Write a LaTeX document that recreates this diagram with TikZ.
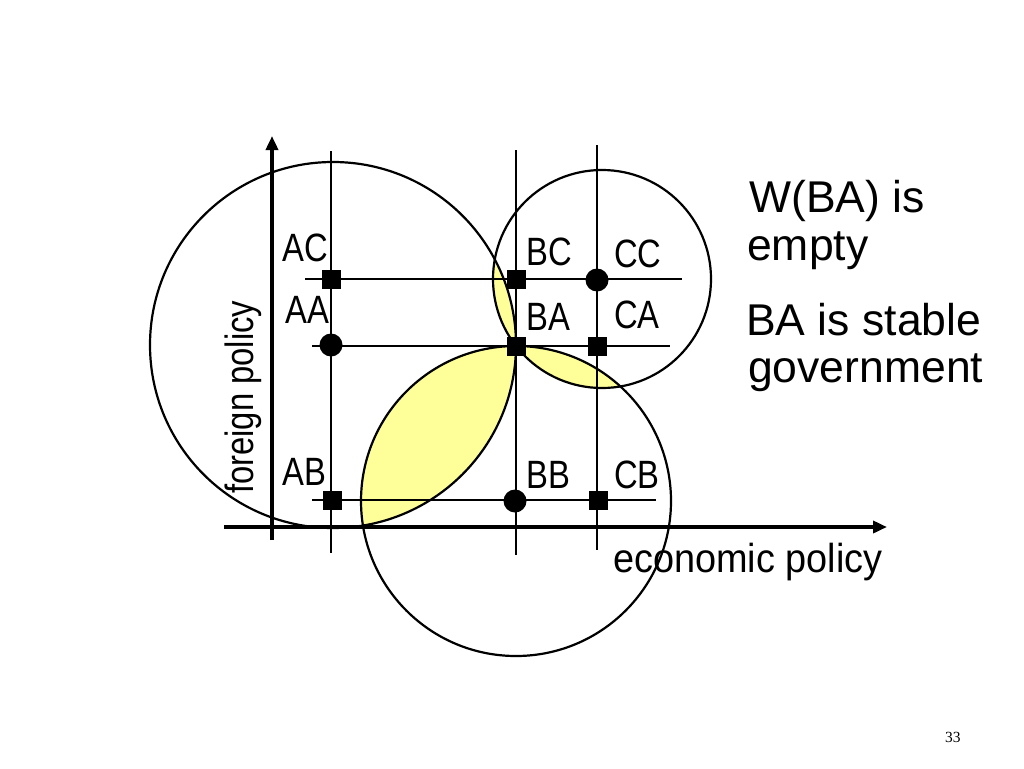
\documentclass[tikz,border=0pt]{standalone}
\usepackage{fontspec}
\setmainfont{Liberation Sans}
\newfontfamily\labfont[FakeStretch=0.83]{Liberation Sans}
\newfontfamily\econfont[FakeStretch=0.935]{Liberation Sans}
\newfontfamily\pagefont{Liberation Serif}
\usetikzlibrary{arrows.meta}
\definecolor{lensyellow}{HTML}{FFFF99}
\tikzset{
  thinline/.style={line width=2pt},
  axisline/.style={line width=3.5pt, -{Triangle[length=14pt,width=12pt]}},
  ring/.style={line width=2.2pt},
  sqmark/.style={rectangle, fill=black, minimum size=19pt, inner sep=0pt},
  dotmark/.style={circle, fill=black, minimum size=23pt, inner sep=0pt},
  cell/.style={font=\labfont\fontsize{39.5}{44}\selectfont, anchor=base west, inner sep=0pt},
  note/.style={font=\fontsize{44.5}{48}\selectfont, anchor=base west, inner sep=0pt},
}
\begin{document}
\begin{tikzpicture}[x=1pt,y=-1pt]
\useasboundingbox (0,0) rectangle (1024,768);
% circle centres
\coordinate (cL) at (333,345);
\coordinate (cB) at (516,501);
\coordinate (cT) at (602,279);
% yellow lenses (pairwise intersections)
\begin{scope}
  \clip (cL) circle[radius=183pt];
  \fill[lensyellow] (cB) circle[radius=155pt];
\end{scope}
\begin{scope}
  \clip (cL) circle[radius=183pt];
  \fill[lensyellow] (cT) circle[radius=109pt];
\end{scope}
\begin{scope}
  \clip (cB) circle[radius=155pt];
  \fill[lensyellow] (cT) circle[radius=109pt];
\end{scope}
% circles
\draw[ring] (cL) circle[radius=183pt];
\draw[ring] (cB) circle[radius=155pt];
\draw[ring] (cT) circle[radius=109pt];
% grid line ends
\coordinate (vAt) at (331,151); \coordinate (vAb) at (331,553);
\coordinate (vBt) at (516,150); \coordinate (vBb) at (516,555);
\coordinate (vCt) at (597,145); \coordinate (vCb) at (597,550);
\coordinate (hCl) at (305,279); \coordinate (hCr) at (682,279);
\coordinate (hAl) at (312,346); \coordinate (hAr) at (670,346);
\coordinate (hBl) at (312,500); \coordinate (hBr) at (656,500);
\draw[thinline] (vAt) -- (vAb);
\draw[thinline] (vBt) -- (vBb);
\draw[thinline] (vCt) -- (vCb);
\draw[thinline] (hCl) -- (hCr);
\draw[thinline] (hAl) -- (hAr);
\draw[thinline] (hBl) -- (hBr);
% axes
\coordinate (yfoot) at (272,540); \coordinate (ytip) at (272,136);
\coordinate (xfoot) at (224,527); \coordinate (xtip) at (887,527);
\draw[axisline] (yfoot) -- (ytip);
\draw[axisline] (xfoot) -- (xtip);
% markers
\node[sqmark]  (AC) at (331,279) {};
\node[sqmark]  (BC) at (516,279) {};
\node[dotmark] (CC) at (597,280) {};
\node[dotmark] (AA) at (331,345) {};
\node[sqmark]  (BA) at (516,346) {};
\node[sqmark]  (CA) at (597,346) {};
\node[sqmark]  (AB) at (332,500) {};
\node[dotmark] (BB) at (515,501) {};
\node[sqmark]  (CB) at (598,500) {};
% cell labels
\node[cell] (lAC) at (282,261) {AC};
\node[cell] (lAA) at (285,323) {AA};
\node[cell] (lAB) at (282,485) {AB};
\node[cell] (lBC) at (526,265) {BC};
\node[cell] (lCC) at (614,267) {CC};
\node[cell] (lBA) at (526,330) {BA};
\node[cell] (lCA) at (614,328) {CA};
\node[cell] (lBB) at (526,488) {BB};
\node[cell] (lCB) at (614,488) {CB};
% axis titles
\node[cell, rotate=90] (fp) at (253,494) {foreign policy};
\node[font=\econfont\fontsize{40.5}{44}\selectfont, anchor=base west, inner sep=0pt] (ep) at (613,572) {economic policy};
% notes
\node[note] (w1) at (749,212) {W(BA) is};
\node[note] (w2) at (747,260) {empty};
\node[note] (s1) at (746,335) {BA is stable};
\node[note] (s2) at (748,382) {government};
% page number
\node[font=\pagefont\fontsize{15.5}{18}\selectfont, anchor=base west, inner sep=0pt] (pg) at (945,742) {33};
\end{tikzpicture}
\end{document}
